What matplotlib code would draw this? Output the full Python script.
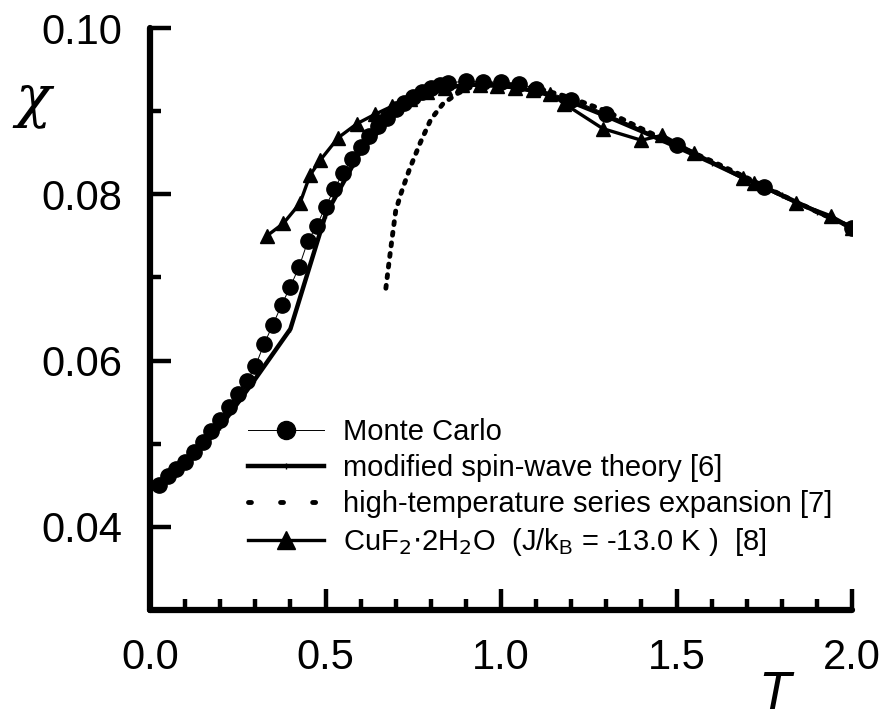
import matplotlib
matplotlib.use('Agg')
import matplotlib.pyplot as plt
from matplotlib.lines import Line2D
from matplotlib.ticker import MultipleLocator, FormatStrFormatter

plt.rcParams['font.family'] = ['Liberation Sans', 'DejaVu Sans']

# Monte Carlo
T_mc = [0.025, 0.05, 0.075, 0.1, 0.125, 0.15, 0.175, 0.2, 0.225, 0.25,
        0.275, 0.3, 0.325, 0.35, 0.375, 0.4, 0.425, 0.45, 0.475, 0.5,
        0.525, 0.55, 0.575, 0.6, 0.625, 0.65, 0.675, 0.7, 0.725, 0.75,
        0.775, 0.8, 0.825, 0.85, 0.9, 0.95, 1.0, 1.05, 1.1, 1.2,
        1.3, 1.5, 1.75, 2.0]
chi_mc = [0.0450, 0.0461, 0.0470, 0.0478, 0.0490, 0.0502, 0.0515, 0.0528, 0.0544, 0.0560,
          0.0575, 0.0593, 0.0620, 0.0643, 0.0667, 0.0689, 0.0713, 0.0744, 0.0762, 0.0785,
          0.0806, 0.0826, 0.0843, 0.0857, 0.0870, 0.0882, 0.0892, 0.0902, 0.0910, 0.0917,
          0.0923, 0.0928, 0.0932, 0.0934, 0.0936, 0.0935, 0.0935, 0.0933, 0.0927, 0.0914,
          0.0897, 0.0859, 0.0809, 0.0760]

# modified spin-wave theory [6]
T_sw = [0.0, 0.1, 0.2, 0.3, 0.4, 0.5, 0.6, 0.7, 0.8, 0.9, 1.0,
        1.1, 1.2, 1.3, 1.4, 1.5, 1.6, 1.7, 1.8, 1.9, 2.0]
chi_sw = [0.0447, 0.0473, 0.0520, 0.0578, 0.0638, 0.0775, 0.0852, 0.0898, 0.0924, 0.0932, 0.0931,
          0.0924, 0.0911, 0.0894, 0.0876, 0.0857, 0.0838, 0.0818, 0.0799, 0.0779, 0.0760]

# high-temperature series expansion [7]
T_ht = [0.672, 0.68, 0.69, 0.70, 0.715, 0.74, 0.77, 0.80, 0.835, 0.875, 0.92, 0.97,
        1.0, 1.1, 1.2, 1.3, 1.4, 1.5, 1.6, 1.7, 1.8, 1.9, 2.0]
chi_ht = [0.0687, 0.0715, 0.0748, 0.0780, 0.0801, 0.0831, 0.0862, 0.0890, 0.0909, 0.0921, 0.0930, 0.0933,
          0.0933, 0.0928, 0.0916, 0.0900, 0.0879, 0.0859, 0.0840, 0.0820, 0.0799, 0.0779, 0.0760]

# CuF2.2H2O experiment [8]
T_cu = [0.333, 0.38, 0.427, 0.456, 0.485, 0.536, 0.59, 0.64, 0.69, 0.74, 0.79, 0.84, 0.89, 0.94,
        0.99, 1.04, 1.09, 1.14, 1.18, 1.29, 1.40, 1.46, 1.55, 1.69, 1.72, 1.84, 1.94, 2.0]
chi_cu = [0.0750, 0.0765, 0.0789, 0.0823, 0.0841, 0.0868, 0.0885, 0.0896, 0.0906, 0.0915, 0.0923, 0.0928, 0.0931, 0.0931,
          0.0930, 0.0928, 0.0925, 0.0921, 0.0909, 0.0879, 0.0865, 0.0871, 0.0850, 0.0819, 0.0814, 0.0790, 0.0774, 0.0760]

labels = ['Monte Carlo', 'modified spin-wave theory [6]',
          'high-temperature series expansion [7]',
          r'CuF$_2$$\cdot$2H$_2$O  (J/k$_\mathregular{B}$ = -13.0 K )  [8]']

fig = plt.figure(figsize=(8.88, 7.2), dpi=100)
ax = fig.add_axes([150/888, 1 - 610/720, 702/888, 582/720])

ax.plot(T_sw, chi_sw, '-', color='black', lw=3.2, marker='|', ms=4, mew=1)
ax.plot(T_ht, chi_ht, color='black', lw=3.5, linestyle=(0, (0.6, 1.6)),
        dash_capstyle='round')
ax.plot(T_cu, chi_cu, '-', color='black', lw=2.4, marker='^', ms=10)
ax.plot(T_mc, chi_mc, '-', color='black', lw=0.7, marker='o', ms=11)

ax.set_xlim(0, 2.0)
ax.set_ylim(0.03, 0.10)
ax.xaxis.set_major_locator(MultipleLocator(0.5))
ax.xaxis.set_minor_locator(MultipleLocator(0.1))
ax.yaxis.set_major_locator(MultipleLocator(0.02))
ax.yaxis.set_minor_locator(MultipleLocator(0.01))
ax.set_yticks([0.04, 0.06, 0.08, 0.10])
ax.xaxis.set_major_formatter(FormatStrFormatter('%.1f'))
ax.yaxis.set_major_formatter(FormatStrFormatter('%.2f'))

for s in ['top', 'right']:
    ax.spines[s].set_visible(False)
for s in ['left', 'bottom']:
    ax.spines[s].set_linewidth(4.5)
    ax.spines[s].set_capstyle('round')

ax.tick_params(which='major', direction='in', length=15, width=3.2,
               labelsize=30, pad=20)
ax.tick_params(which='minor', direction='in', length=8, width=3.2)
ax.tick_params(axis='y', which='both', left=True, right=False)
ax.tick_params(axis='x', which='both', bottom=True, top=False)

fig.text(33/888, 1 - 100/720, 'χ', fontsize=42, style='italic',
         family=['DejaVu Serif'], ha='center', va='center')
fig.text(774/888, 1 - 709/720, 'T', fontsize=38, style='italic',
         ha='center', va='baseline')

handles = [
    Line2D([], [], color='black', lw=0.7, marker='o', ms=13),
    Line2D([], [], color='black', lw=3.2, marker='|', ms=5, mew=1),
    Line2D([], [], color='black', lw=3.5, linestyle=(0, (0.6, 6.0)),
           dash_capstyle='round'),
    Line2D([], [], color='black', lw=2.4, marker='^', ms=13),
]
fig.legend(handles, labels, loc='upper left', bbox_to_anchor=(248/888, 1 - 418/720),
           frameon=False, fontsize=21, handlelength=2.6, handletextpad=0.65,
           labelspacing=0.28, borderpad=0, borderaxespad=0)

fig.savefig('out.png', dpi=100)
